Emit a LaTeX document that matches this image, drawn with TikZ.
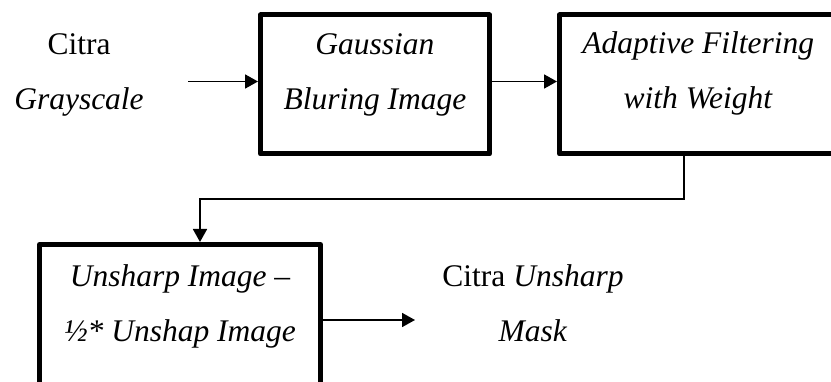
\documentclass[tikz,border=0pt]{standalone}
\usepackage{fontspec}
\setmainfont{Liberation Serif}
\usetikzlibrary{arrows.meta}
\begin{document}
\begin{tikzpicture}[x=1pt,y=-1pt,
  every node/.style={inner sep=0pt, font=\fontsize{31.5}{55}\selectfont},
  stagebox/.style={draw, line width=5pt, line join=round},
  arr/.style={line width=1.8pt, -{Triangle[length=13pt,width=14pt]}},
  conn/.style={line width=1.8pt}]
\useasboundingbox (0,0) rectangle (831,382);
\clip (0,0) rectangle (831,382);
% input text
\node[anchor=base] (inp) at (79,55) {\parbox[t]{160pt}{\centering Citra\\\textit{Grayscale}}};
% boxes
\node[stagebox] (g) at (375,84.5) {\begin{minipage}[c][139pt][t]{229pt}\centering\rule{0pt}{40pt}\textit{Gaussian}\\\textit{Bluring Image}\end{minipage}};
\node[stagebox] (a) at (698.25,84.5) {\begin{minipage}[c][139pt][t]{277.5pt}\centering\rule{0pt}{39pt}\textit{Adaptive Filtering}\\\textit{with Weight}\end{minipage}};
\node[stagebox] (u) at (180,337.25) {\begin{minipage}[c][185.5pt][t]{281pt}\centering\rule{0pt}{42.5pt}\textit{Unsharp Image –}\\\textit{½* Unshap Image}\end{minipage}};
% output text
\node[anchor=base] (out) at (533,287) {\parbox[t]{220pt}{\centering Citra \textit{Unsharp}\\\textit{Mask}}};
% connectors
\coordinate (s1) at (188,81.5);
\coordinate (c1) at (684,199);
\coordinate (c2) at (200,199);
\coordinate (e4) at (415,320);
\draw[arr] (s1) -- (s1 -| g.west);
\draw[arr] (g.east |- s1) -- (a.west |- s1);
\draw[arr] (c1 |- a.south) -- (c1) -- (c2) -- (c2 |- u.north);
\draw[arr] (u.east |- e4) -- (e4);
\end{tikzpicture}
\end{document}
